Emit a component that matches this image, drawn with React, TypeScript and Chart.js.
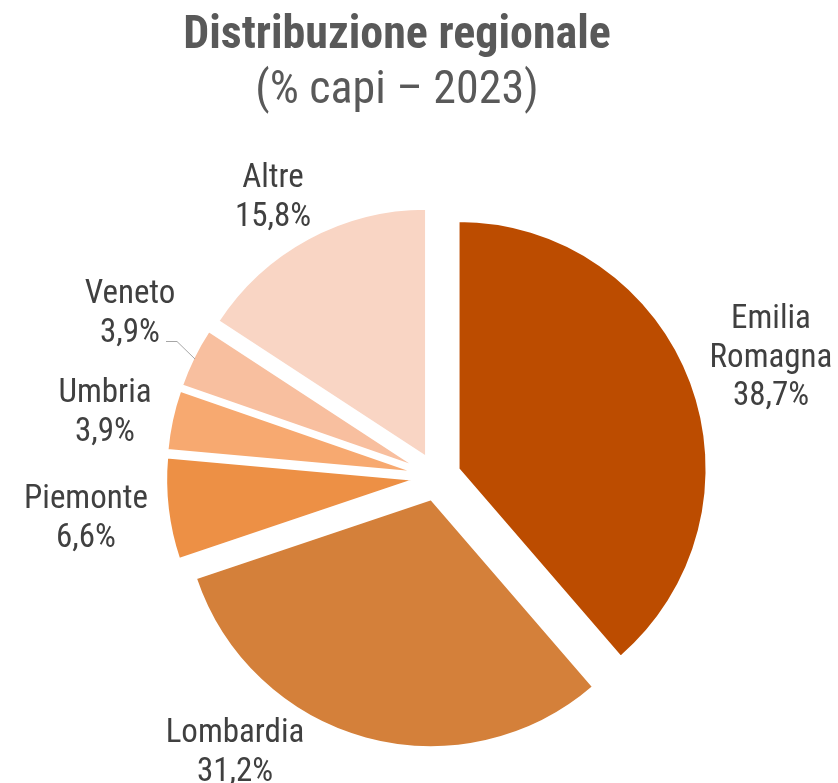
import React, { useEffect, useRef } from "react";
import { Chart, registerables } from "chart.js";

Chart.register(...registerables);

// ---- data ----
const categories = ["Emilia Romagna", "Lombardia", "Piemonte", "Umbria", "Veneto", "Altre"];
const shares = [38.7, 31.2, 6.6, 3.9, 3.9, 15.8];
const sliceColors = ["#BC4C00", "#D4803A", "#ED9045", "#F7A970", "#F8BF9F", "#F9D5C4"];
const titleText = "Distribuzione regionale";
const subtitleText = "(% capi – 2023)";

// ---- layout (not data) ----
const FONT = '"Liberation Sans Narrow", "Roboto Condensed", "Arial Narrow", "DejaVu Sans Condensed", sans-serif';
const EXPLODE = 23;
const labelAnchors = [
  { x: 771, y: 328 },
  { x: 235, y: 742 },
  { x: 86, y: 508 },
  { x: 105, y: 402 },
  { x: 130, y: 303 },
  { x: 273, y: 187 },
];
const LINE_H = 38.5;

const fmt = (v: number) => v.toFixed(1).replace(".", ",") + "%";

const explodePlugin = {
  id: "explode",
  afterUpdate(chart: any) {
    const meta = chart.getDatasetMeta(0);
    meta.data.forEach((arc: any) => {
      const half = (arc.startAngle + arc.endAngle) / 2;
      arc.x += Math.cos(half) * EXPLODE;
      arc.y += Math.sin(half) * EXPLODE;
    });
  },
};

const textPlugin = {
  id: "texts",
  afterDraw(chart: any) {
    const ctx = chart.ctx;
    ctx.save();
    ctx.textAlign = "center";
    ctx.textBaseline = "alphabetic";
    // title
    ctx.fillStyle = "#595959";
    ctx.font = `bold 46px ${FONT}`;
    ctx.fillText(titleText, 397, 48);
    ctx.font = `46px ${FONT}`;
    ctx.fillText(subtitleText, 397, 103);
    // labels
    ctx.fillStyle = "#404040";
    ctx.font = `33px ${FONT}`;
    categories.forEach((cat, i) => {
      const a = labelAnchors[i];
      const lines = [...cat.split(" "), fmt(shares[i])];
      lines.forEach((ln, k) => ctx.fillText(ln, a.x, a.y + k * LINE_H));
    });
    // leader line for Veneto
    ctx.strokeStyle = "#A6A6A6";
    ctx.lineWidth = 1;
    ctx.beginPath();
    ctx.moveTo(166, 341.5);
    ctx.lineTo(177, 341.5);
    ctx.lineTo(195, 359);
    ctx.stroke();
    ctx.restore();
  },
};

export default function App() {
  const ref = useRef<HTMLCanvasElement | null>(null);
  useEffect(() => {
    document.body.style.margin = "0";
    const chart = new Chart(ref.current as HTMLCanvasElement, {
      type: "pie",
      data: {
        labels: categories,
        datasets: [
          {
            data: shares,
            backgroundColor: sliceColors,
            borderColor: "#FFFFFF",
            borderWidth: 2,
          },
        ],
      },
      options: {
        responsive: false,
        animation: false,
        events: [],
        radius: 248,
        layout: { padding: { left: 36, right: 0, top: 171, bottom: 0 } },
        plugins: {
          legend: { display: false },
          tooltip: { enabled: false },
          title: { display: false },
        },
      } as any,
      plugins: [explodePlugin, textPlugin],
    });
    return () => chart.destroy();
  }, []);
  return (
    <div style={{ position: "absolute", left: 0, top: 0, width: 838, height: 783, background: "#fff" }}>
      <canvas ref={ref} width={838} height={783} />
    </div>
  );
}
